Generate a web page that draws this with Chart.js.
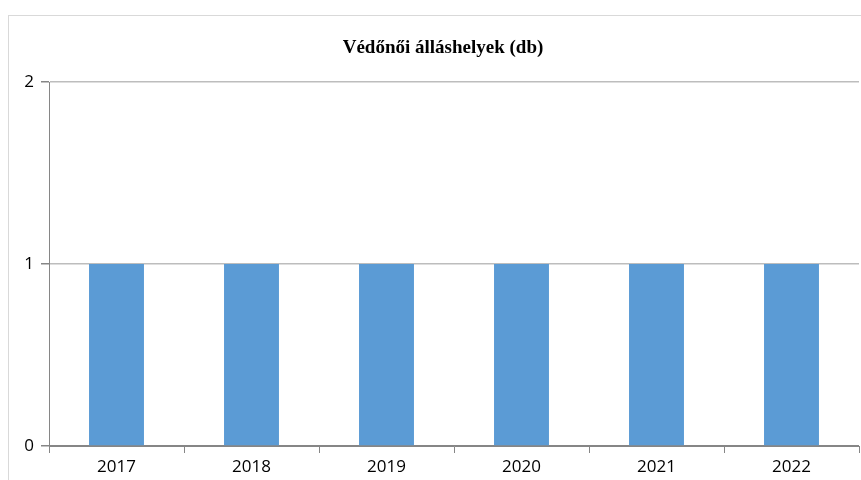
<!DOCTYPE html>
<html>
<head>
<meta charset="utf-8">
<script src="https://cdn.jsdelivr.net/npm/chart.js@4"></script>
<style>
    html, body { margin: 0; padding: 0; background: #fff; overflow: hidden; width: 861px; height: 480px; }
    #frame {
        position: absolute; left: 8px; top: 15px; width: 900px; height: 520px;
        border: 1px solid #d9d9d9; box-sizing: border-box;
    }
    #wrap { position: absolute; left: 8px; top: 15px; width: 870px; height: 480px; }
</style>
</head>
<body>
<div id="frame"></div>
<div id="wrap"><canvas id="chart"></canvas></div>
<script>
// Chart data
const years = ['2017', '2018', '2019', '2020', '2021', '2022'];
const positions = [1, 1, 1, 1, 1, 1];
const yTicks = [0, 1, 2];

const axisColor = '#868686';

// Title in the original sits a bit right of the plot centre
const shiftTitle = {
    id: 'shiftTitle',
    afterLayout(chart) {
        if (chart.titleBlock) chart.titleBlock.left += 19;
    }
};

const ctx = document.getElementById('chart').getContext('2d');
new Chart(ctx, {
    type: 'bar',
    data: {
        labels: years,
        datasets: [{
            label: 'Védőnői álláshelyek (db)',
            data: positions,
            backgroundColor: '#5B9BD5',
            borderWidth: 0,
            barPercentage: 0.407,
            categoryPercentage: 1
        }]
    },
    options: {
        responsive: true,
        maintainAspectRatio: false,
        animation: false,
        layout: {
            padding: { left: 0, right: 19, top: 0, bottom: 0 }
        },
        plugins: {
            legend: { display: false },
            tooltip: { enabled: false },
            title: {
                display: true,
                text: 'Védőnői álláshelyek (db)',
                color: '#000',
                font: { family: '"Liberation Serif", serif', size: 19, weight: 'bold' },
                padding: { top: 22, bottom: 22.2 }
            }
        },
        scales: {
            x: {
                grid: {
                    offset: true,
                    drawOnChartArea: false,
                    drawTicks: true,
                    tickLength: 7,
                    color: axisColor
                },
                border: { color: axisColor, width: 1 },
                ticks: {
                    color: '#000',
                    padding: 4,
                    font: { family: '"Open Sans", sans-serif', size: 17 }
                },
                afterFit: scale => { scale.height = 49; }
            },
            y: {
                min: 0,
                max: 2,
                afterBuildTicks: scale => { scale.ticks = yTicks.map(v => ({ value: v })); },
                grid: {
                    color: ctx => ctx.tick && ctx.tick.value === 0 ? axisColor : '#bdbdbd',
                    lineWidth: 1.5,
                    tickLength: 8,
                    tickColor: axisColor
                },
                border: { color: axisColor, width: 1 },
                ticks: {
                    color: '#000',
                    padding: 7,
                    font: { family: '"Open Sans", sans-serif', size: 17 }
                },
                afterFit: scale => { scale.width = 41; }
            }
        }
    },
    plugins: [shiftTitle]
});
</script>
</body>
</html>
